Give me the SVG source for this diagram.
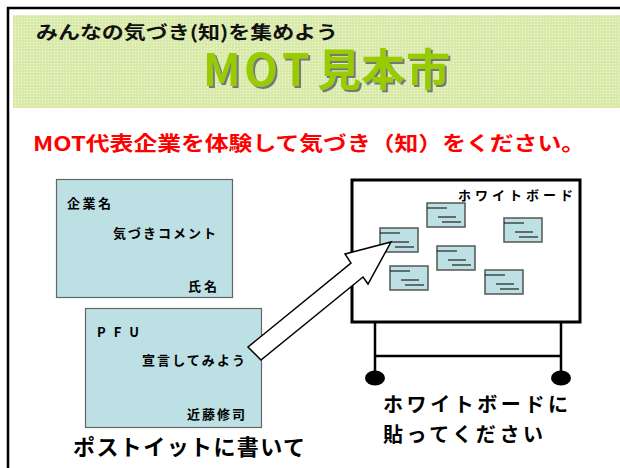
<svg xmlns="http://www.w3.org/2000/svg" width="620" height="468" viewBox="0 0 620 468">
<style>
.jp{font-family:"Noto Sans CJK JP","Liberation Sans",sans-serif;font-weight:bold;}
.card{fill:#bce0e4;stroke:#666;stroke-width:1.2;}
.mini{fill:#bce0e4;stroke:#555;stroke-width:1.5;}
.l1{stroke:#000;stroke-width:1;}
.l2{stroke:#444;stroke-width:1.5;}
.leg{stroke:#000;stroke-width:2.5;fill:none;}
</style>
<defs>
<pattern id="tex" width="3" height="3" patternUnits="userSpaceOnUse">
<rect width="3" height="3" fill="#dcecb0"/>
<rect x="0" y="0" width="1" height="1" fill="#eef6d4"/>
<rect x="1.5" y="1.5" width="1" height="1" fill="#c9e08e"/>
</pattern>
<filter id="shadow" x="-5%" y="-10%" width="115%" height="130%">
<feDropShadow dx="2" dy="2" stdDeviation="0.3" flood-color="#777" flood-opacity="1"/>
</filter>
<g id="minicard">
<rect class="mini" x="0" y="0" width="38" height="24"/>
<line class="l1" x1="0" y1="5" x2="20" y2="5"/>
<line class="l2" x1="11" y1="14" x2="29" y2="14"/>
<line class="l2" x1="15" y1="19" x2="34" y2="19"/>
</g>
</defs>
<rect x="0" y="0" width="620" height="468" fill="#fff"/>
<g id="frame">
<path d="M8 470 V8 H622" fill="none" stroke="#000" stroke-width="2.5"/>
<rect x="13" y="15" width="610" height="93" fill="url(#tex)"/>
</g>
<g id="title">
<text class="jp" x="36" y="39" font-size="18" fill="#111" textLength="302" lengthAdjust="spacingAndGlyphs">みんなの気づき(知)を集めよう</text>
<text class="jp" x="203 244 282 317 361 406" y="86" font-size="44" fill="#99cc00" filter="url(#shadow)">MOT見本市</text>
</g>
<text id="instruction" class="jp" x="33" y="151" font-size="20" fill="#ff0000" textLength="552" lengthAdjust="spacingAndGlyphs">MOT代表企業を体験して気づき（知）をください。</text>
<g id="card1">
<rect class="card" x="56.5" y="179.5" width="176" height="118"/>
<text class="jp" x="67" y="208" font-size="13" textLength="44">企業名</text>
<text class="jp" x="113" y="238" font-size="13" textLength="103">気づきコメント</text>
<text class="jp" x="188" y="291" font-size="13" textLength="29">氏名</text>
</g>
<g id="card2">
<rect class="card" x="85.5" y="308.5" width="176" height="119"/>
<text class="jp" x="97" y="337" font-size="13" textLength="42">PFU</text>
<text class="jp" x="142" y="365" font-size="13" textLength="103">宣言してみよう</text>
<text class="jp" x="187" y="419" font-size="13" textLength="58">近藤修司</text>
</g>
<text id="label-postit" class="jp" x="73" y="455" font-size="22" textLength="232">ポストイットに書いて</text>
<g id="whiteboard">
<rect x="352" y="180" width="228" height="142" fill="#fff" stroke="#000" stroke-width="3"/>
<path class="leg" d="M375 322 V372 M561 322 V372 M375 356 H561"/>
<ellipse cx="375" cy="378" rx="10" ry="7.5" fill="#000"/>
<ellipse cx="561" cy="378" rx="10" ry="7.5" fill="#000"/>
<text class="jp" x="458" y="200" font-size="13" textLength="115">ホワイトボード</text>
<use href="#minicard" x="427" y="203"/>
<use href="#minicard" x="380" y="228"/>
<use href="#minicard" x="504" y="218"/>
<use href="#minicard" x="437" y="246"/>
<use href="#minicard" x="390" y="266"/>
<use href="#minicard" x="485" y="270"/>
</g>
<g id="connectors">
<polygon points="248,347 351,263 345,254 391,242 368,284 363,277 261,360" fill="#fff" stroke="#000" stroke-width="1.5" stroke-linejoin="miter"/>
</g>
<g id="label-board">
<text class="jp" x="383" y="412" font-size="20" textLength="185">ホワイトボードに</text>
<text class="jp" x="383" y="442" font-size="20" textLength="160">貼ってください</text>
</g>
</svg>
